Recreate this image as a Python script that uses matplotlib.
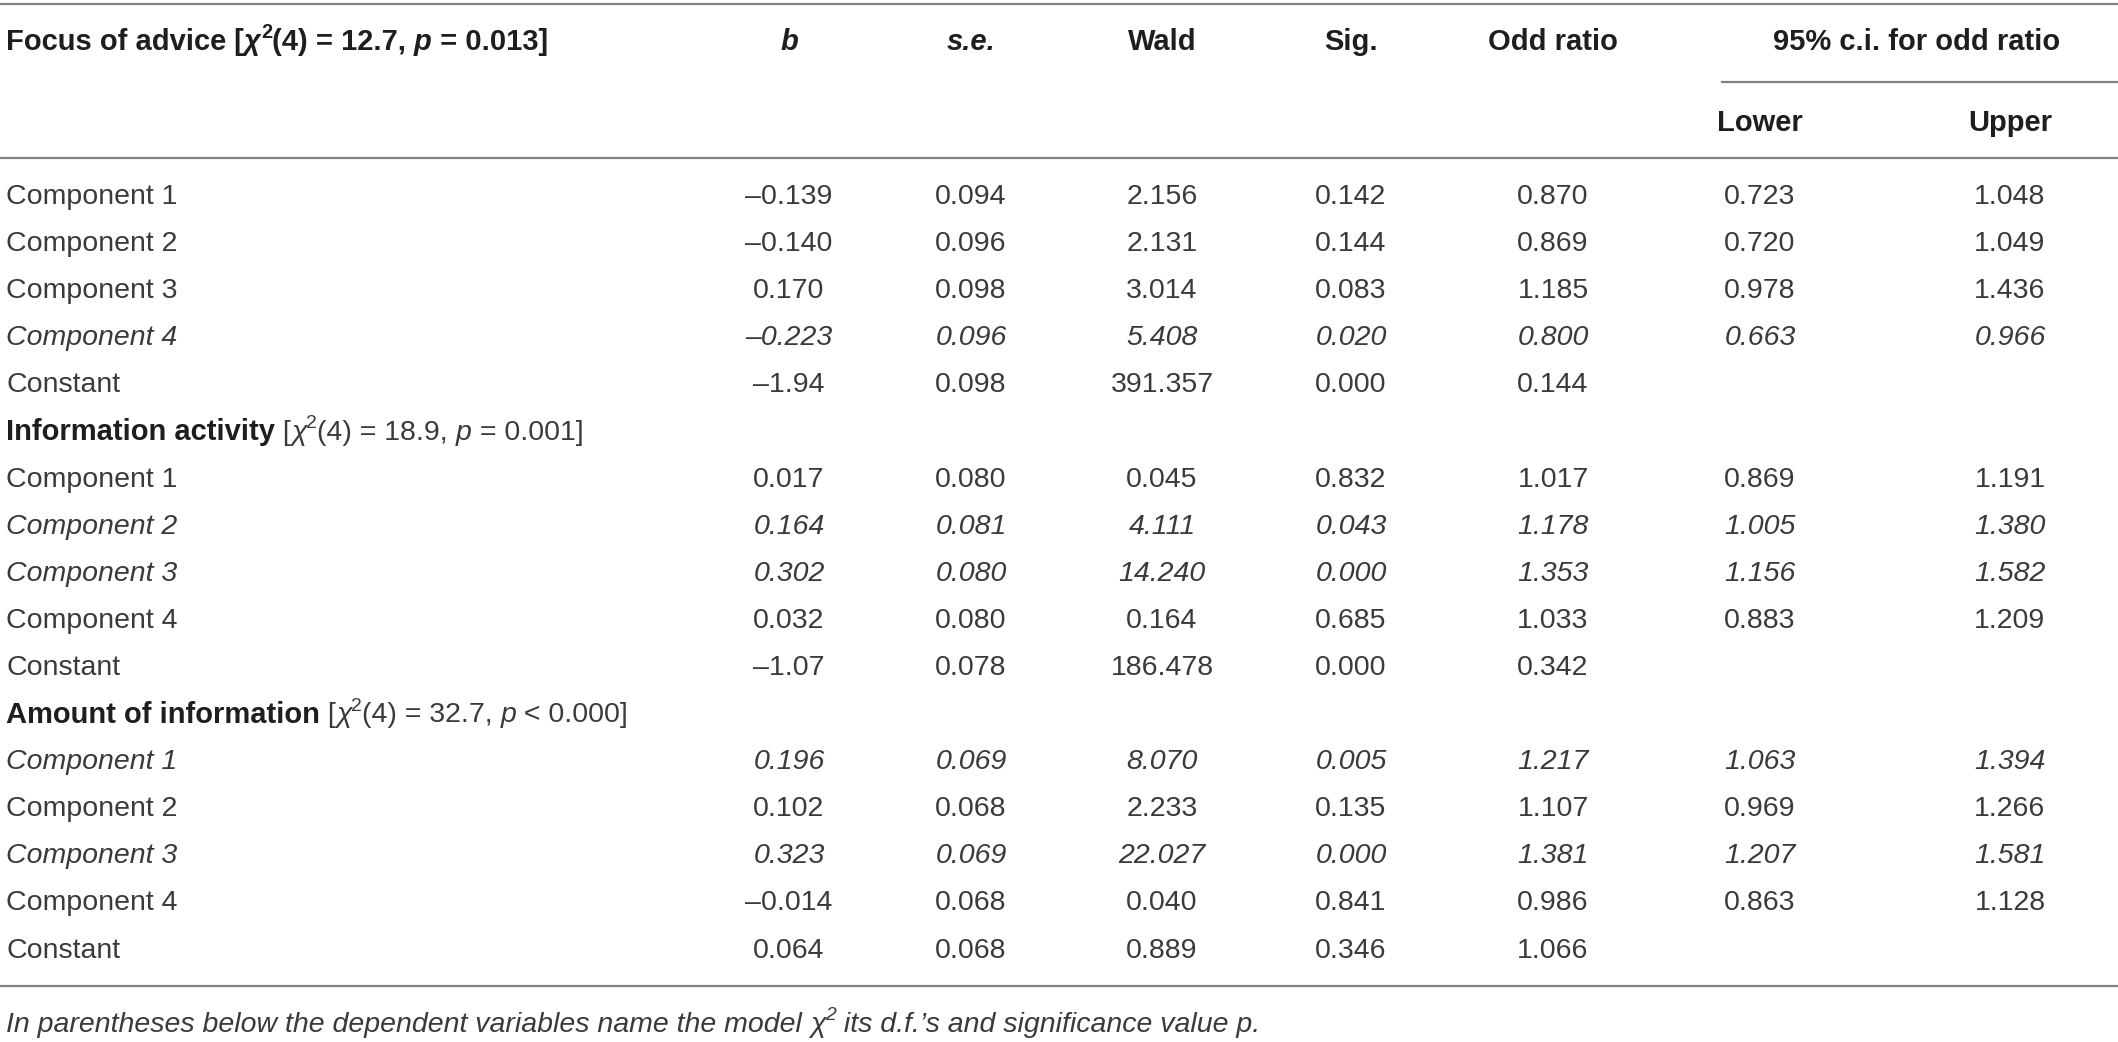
import matplotlib
matplotlib.use("Agg")
import matplotlib.pyplot as plt
from matplotlib import font_manager

# ---------------- data ----------------
col_headers = ["b", "s.e.", "Wald", "Sig.", "Odd ratio"]
ci_header = "95% c.i. for odd ratio"
ci_sub = ["Lower", "Upper"]

group_names = ["Focus of advice", "Information activity", "Amount of information"]
group_chi2 = ["12.7", "18.9", "32.7"]
group_p = ["= 0.013", "= 0.001", "< 0.000"]

row_labels = ["Component 1", "Component 2", "Component 3", "Component 4", "Constant"]

b_vals = [["–0.139", "–0.140", "0.170", "–0.223", "–1.94"],
          ["0.017", "0.164", "0.302", "0.032", "–1.07"],
          ["0.196", "0.102", "0.323", "–0.014", "0.064"]]
se_vals = [["0.094", "0.096", "0.098", "0.096", "0.098"],
           ["0.080", "0.081", "0.080", "0.080", "0.078"],
           ["0.069", "0.068", "0.069", "0.068", "0.068"]]
wald_vals = [["2.156", "2.131", "3.014", "5.408", "391.357"],
             ["0.045", "4.111", "14.240", "0.164", "186.478"],
             ["8.070", "2.233", "22.027", "0.040", "0.889"]]
sig_vals = [["0.142", "0.144", "0.083", "0.020", "0.000"],
            ["0.832", "0.043", "0.000", "0.685", "0.000"],
            ["0.005", "0.135", "0.000", "0.841", "0.346"]]
odds_vals = [["0.870", "0.869", "1.185", "0.800", "0.144"],
             ["1.017", "1.178", "1.353", "1.033", "0.342"],
             ["1.217", "1.107", "1.381", "0.986", "1.066"]]
lower_vals = [["0.723", "0.720", "0.978", "0.663", ""],
              ["0.869", "1.005", "1.156", "0.883", ""],
              ["1.063", "0.969", "1.207", "0.863", ""]]
upper_vals = [["1.048", "1.049", "1.436", "0.966", ""],
              ["1.191", "1.380", "1.582", "1.209", ""],
              ["1.394", "1.266", "1.581", "1.128", ""]]
italic_rows = [[False, False, False, True, False],
               [False, True, True, False, False],
               [True, False, True, False, False]]

footnote = "In parentheses below the dependent variables name the model "

# ---------------- style ----------------
W, H = 2118, 1042
avail = {f.name for f in font_manager.fontManager.ttflist}
BODY = ["Liberation Sans", "DejaVu Sans"]
HEAD = ["Liberation Sans", "DejaVu Sans"]
FS = 20.5
FSH = 21
TXT = "#3a3a3a"
HDR = "#1e1e1e"
RULE = "#808080"

fig = plt.figure(figsize=(W / 100, H / 100), dpi=100)
ax = fig.add_axes([0, 0, 1, 1])
ax.set_xlim(0, W)
ax.set_ylim(H, 0)
ax.axis("off")
renderer = fig.canvas.get_renderer()

col_x = [789, 971, 1162, 1351, 1553]
ci_x = [1760, 2010]
ci_center = 1917
left_x = 6
y_head1 = 42
y_head2 = 123
row_y0 = 197
row_dy = 47.1


def runs(x, y, pieces):
    """Draw a sequence of differently-styled text pieces side by side."""
    cx = x
    for txt, kw in pieces:
        kw = dict(kw)
        dy = kw.pop("dy", 0)
        t = ax.text(cx, y + dy, txt, va="center", ha="left", **kw)
        bb = t.get_window_extent(renderer=renderer)
        cx += bb.width


def bracket_pieces(chi, p, base, ital):
    sup = dict(base, fontsize=base["fontsize"] * 0.68, dy=-9)
    return [(" [", base), ("χ", ital), ("2", sup), ("(4) = " + chi + ", ", base),
            ("p", ital), (" " + p + "]", base)]


# rules
ax.plot([0, W], [4, 4], color=RULE, lw=1.6)
ax.plot([1722, W], [82, 82], color=RULE, lw=1.6)
ax.plot([0, W], [158, 158], color=RULE, lw=1.6)
ax.plot([0, W], [986, 986], color=RULE, lw=1.6)

# header row
hb = dict(fontsize=FSH, family=HEAD, weight="bold", color=HDR)
hbi = dict(hb, style="italic")
runs(left_x, y_head1, [(group_names[0], hb)] + bracket_pieces(group_chi2[0], group_p[0], hb, hbi))
for i, h in enumerate(col_headers):
    sty = hbi if h in ("b", "s.e.") else hb
    ax.text(col_x[i], y_head1, h, ha="center", va="center", **sty)
ax.text(ci_center, y_head1, ci_header, ha="center", va="center", **hb)
for i, h in enumerate(ci_sub):
    ax.text(ci_x[i], y_head2, h, ha="center", va="center", **hb)

# body
reg = dict(fontsize=FS, family=BODY, color=TXT)
regi = dict(reg, style="italic")
bold = dict(fontsize=FSH, family=HEAD, weight="bold", color=HDR)

r = 0
for g in range(3):
    if g > 0:
        y = row_y0 + r * row_dy
        runs(left_x, y, [(group_names[g], bold)] + bracket_pieces(group_chi2[g], group_p[g], reg, regi))
        r += 1
    for k, lab in enumerate(row_labels):
        y = row_y0 + r * row_dy
        sty = regi if italic_rows[g][k] else reg
        ax.text(left_x, y, lab, ha="left", va="center", **sty)
        vals = [b_vals[g][k], se_vals[g][k], wald_vals[g][k], sig_vals[g][k], odds_vals[g][k]]
        for i, v in enumerate(vals):
            ax.text(col_x[i], y, v, ha="center", va="center", **sty)
        for i, v in enumerate([lower_vals[g][k], upper_vals[g][k]]):
            if v:
                ax.text(ci_x[i], y, v, ha="center", va="center", **sty)
        r += 1

# footnote
fi = dict(fontsize=FS, family=BODY, style="italic", color=TXT)
fsup = dict(fi, fontsize=FS * 0.68, dy=-9)
runs(left_x, 1025, [(footnote, fi), ("χ", fi), ("2", fsup),
                    (" its d.f.’s and significance value p.", fi)])

fig.savefig("out.png", dpi=100)
